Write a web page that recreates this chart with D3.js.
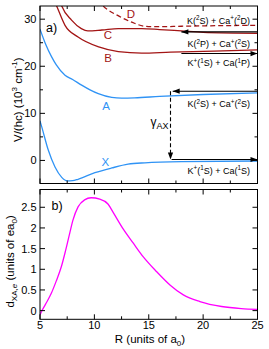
<!DOCTYPE html>
<html>
<head>
<meta charset="utf-8">
<script src="https://cdn.jsdelivr.net/npm/d3@7"></script>
<style>
  html, body { margin: 0; padding: 0; background: #fff; }
  svg { display: block; font-family: "Liberation Sans", Arial, sans-serif; }
</style>
</head>
<body>
<div id="chart"></div>
<script>
// --- Data ---
const curveX = [[5, 8.4], [5.2, 6.8], [5.76, 2.2], [6.38, -1.4], [7.0, -3.6], [7.5, -4.35], [8.0, -4.3],
  [8.5, -4.0], [10.05, -2.6], [11.6, -1.6], [13.1, -0.8], [14.65, -0.5], [18, -0.25], [25, -0.12]];
const curveA = [[5, 27.9], [5.5, 24.8], [6.07, 22.0], [6.5, 20.3], [7.3, 18.1], [8, 17.2], [8.83, 16.0],
  [9.6, 15.0], [10.36, 14.2], [11.6, 13.4], [12.5, 13.25], [13.7, 13.3], [16, 13.6], [20, 14.0], [25, 14.35]];
const curveB = [[6.2, 34.5], [6.53, 32.8], [7.3, 28.7], [8.5, 26.2], [10.4, 24.1], [12.2, 23.1],
  [14.35, 22.8], [17, 23.0], [21, 23.2], [25, 23.5]];
const curveC = [[6.75, 34.5], [7.0, 32.8], [7.9, 29.8], [8.8, 28.0], [9.4, 27.5], [10.7, 27.7], [12.2, 28.0],
  [14.35, 28.0], [16, 27.8], [18, 27.5], [20, 27.2], [25, 27.0]];
const curveD = [[10.3, 34], [10.8, 32.8], [12.3, 30.6], [13.5, 29.3], [14.65, 28.5], [16, 28.4], [18, 28.5], [25, 28.7]];
const dipole = [[5, -0.1], [5.12, -0.03], [5.5, 0.15], [6.04, 0.42], [6.5, 0.72], [6.96, 1.06], [7.35, 1.45],
  [7.73, 1.87], [8.03, 2.19], [8.5, 2.51], [9.1, 2.68], [9.7, 2.73], [10.5, 2.70], [11.25, 2.58], [11.74, 2.37],
  [12.66, 1.97], [13.58, 1.63], [14.5, 1.30], [15.73, 0.94], [16.95, 0.62], [18.18, 0.38], [19.7, 0.22],
  [21.7, 0.1], [23.5, 0.05], [25, 0.03]];

// asymptote arrows: [R from, R to, V]
const asymArrows = [[25, 18.0, 27.3], [18.0, 25, 22.7], [25, 17.2, 14.7], [17.1, 25, 0.2]];
const gammaR = 17.0, gammaFrom = 14.7, gammaTo = 0.2;

const curveLabels = [['D', 13.37, 30.25], ['C', 11.25, 25.7], ['B', 11.25, 21.0], ['A', 11.07, 10.7], ['X', 11.0, -1.2]];
const asymLabels = [
  { v: 29.0, parts: [['K('], ['2', 'sup'], ['S) + Ca'], ['+', 'sup'], ['('], ['2', 'sup'], ['D)']] },
  { v: 24.0, parts: [['K('], ['2', 'sup'], ['P) + Ca'], ['+', 'sup'], ['('], ['2', 'sup'], ['S)']] },
  { v: 20.0, parts: [['K'], ['+', 'sup'], ['('], ['1', 'sup'], ['S) + Ca('], ['1', 'sup'], ['P)']] },
  { v: 11.3, parts: [['K('], ['2', 'sup'], ['S) + Ca'], ['+', 'sup'], ['('], ['2', 'sup'], ['S)']] },
  { v: -2.9, parts: [['K'], ['+', 'sup'], ['('], ['1', 'sup'], ['S) + Ca('], ['1', 'sup'], ['S)']] }
];

const xMajor = [5, 10, 15, 20, 25];
const xMinor = [7.5, 12.5, 17.5, 22.5];
const yaMajor = [0, 10, 20, 30];
const yaMinor = [-5, 5, 15, 25];
const ybMajor = [0, 0.5, 1, 1.5, 2, 2.5];
const ybLabels = ['0', '0.5', '1', '1.5', '2', '2.5'];

const red = '#a31515', blue = '#2f93f5', magenta = '#ff00ff';

// --- Layout ---
const W = 269, H = 349;
const L = 40, R = 257.5;
const aTop = 6, aBot = 183.5, bTop = 189.5, bBot = 319.3;

const x = d3.scaleLinear().domain([5, 25]).range([L, R]);
const ya = d3.scaleLinear().domain([-4.9, 32.8]).range([aBot, aTop]);
const yb = d3.scaleLinear().domain([-0.21, 2.93]).range([bBot, bTop]);

const svg = d3.select('#chart').append('svg').attr('width', W).attr('height', H);
const defs = svg.append('defs');
defs.append('clipPath').attr('id', 'clipA').append('rect')
  .attr('x', L).attr('y', aTop).attr('width', R - L).attr('height', aBot - aTop);
defs.append('clipPath').attr('id', 'clipB').append('rect')
  .attr('x', L).attr('y', bTop).attr('width', R - L).attr('height', bBot - bTop);

// text with super/subscripts; keeps track of the baseline offset
function richText(sel, parts, size) {
  let off = 0;
  parts.forEach(([t, kind]) => {
    const target = kind === 'sup' ? -size * 0.4 : kind === 'sub' ? size * 0.3 : 0;
    const sp = sel.append('tspan').attr('dy', target - off).text(t);
    if (kind) sp.attr('font-size', size * 0.7);
    off = target;
  });
}

function drawTicks(g, y0, y1, yScale, yMaj, yMin) {
  const t = g.append('g').attr('stroke', '#000').attr('stroke-width', 1);
  xMajor.forEach(v => {
    t.append('line').attr('x1', x(v)).attr('x2', x(v)).attr('y1', y1).attr('y2', y1 - 5);
    t.append('line').attr('x1', x(v)).attr('x2', x(v)).attr('y1', y0).attr('y2', y0 + 5);
  });
  xMinor.forEach(v => {
    t.append('line').attr('x1', x(v)).attr('x2', x(v)).attr('y1', y1).attr('y2', y1 - 3);
    t.append('line').attr('x1', x(v)).attr('x2', x(v)).attr('y1', y0).attr('y2', y0 + 3);
  });
  yMaj.forEach(v => {
    t.append('line').attr('x1', L).attr('x2', L + 5).attr('y1', yScale(v)).attr('y2', yScale(v));
    t.append('line').attr('x1', R).attr('x2', R - 5).attr('y1', yScale(v)).attr('y2', yScale(v));
  });
  yMin.forEach(v => {
    const yy = yScale(v);
    if (yy < y0 || yy > y1) return;
    t.append('line').attr('x1', L).attr('x2', L + 3).attr('y1', yy).attr('y2', yy);
    t.append('line').attr('x1', R).attr('x2', R - 3).attr('y1', yy).attr('y2', yy);
  });
  g.append('rect').attr('x', L).attr('y', y0).attr('width', R - L).attr('height', y1 - y0)
    .attr('fill', 'none').attr('stroke', '#000').attr('stroke-width', 1);
}

function arrowHead(g, px, py, dir) {
  // dir: 'left', 'right', 'down'
  const len = 7, hw = 2.6;
  let pts;
  if (dir === 'left') pts = [[px, py], [px + len, py - hw], [px + len, py + hw]];
  else if (dir === 'right') pts = [[px, py], [px - len, py - hw], [px - len, py + hw]];
  else pts = [[px, py], [px - hw, py - len], [px + hw, py - len]];
  g.append('path').attr('d', 'M' + pts.map(p => p.join(',')).join('L') + 'Z').attr('fill', '#000');
}

// --- Panel a ---
const ga = svg.append('g');
const lineA = d3.line().x(d => x(d[0])).y(d => ya(d[1])).curve(d3.curveMonotoneX);
const plotA = ga.append('g').attr('clip-path', 'url(#clipA)');
[[curveX, blue, null], [curveA, blue, null], [curveB, red, null], [curveC, red, null], [curveD, red, '5,3']]
  .forEach(([data, col, dash]) => {
    plotA.append('path').attr('d', lineA(data)).attr('fill', 'none').attr('stroke', col)
      .attr('stroke-width', 1.3).attr('stroke-dasharray', dash);
  });

asymArrows.forEach(([r0, r1, v]) => {
  const yy = ya(v);
  ga.append('line').attr('x1', x(r0)).attr('x2', x(r1)).attr('y1', yy).attr('y2', yy)
    .attr('stroke', '#000').attr('stroke-width', 1.1);
  arrowHead(ga, x(r1), yy, r1 < r0 ? 'left' : 'right');
});
ga.append('line').attr('x1', x(gammaR)).attr('x2', x(gammaR)).attr('y1', ya(gammaFrom)).attr('y2', ya(gammaTo) - 2)
  .attr('stroke', '#000').attr('stroke-width', 1.1).attr('stroke-dasharray', '4,2.5');
arrowHead(ga, x(gammaR), ya(gammaTo), 'down');
const gt = ga.append('text').attr('x', x(gammaR) - 20).attr('y', ya(7.3)).attr('font-size', 12);
gt.append('tspan').text('γ');
gt.append('tspan').attr('font-size', 9).attr('dy', 3).text('AX');

curveLabels.forEach(([t, r, v], i) => {
  ga.append('text').attr('x', x(r)).attr('y', ya(v)).attr('text-anchor', 'middle')
    .attr('font-size', 11.5).attr('fill', i < 3 ? red : blue).text(t);
});
asymLabels.forEach(d => {
  const t = ga.append('text').attr('x', 250).attr('y', ya(d.v)).attr('text-anchor', 'end').attr('font-size', 9);
  richText(t, d.parts, 9);
});
ga.append('text').attr('x', 46).attr('y', 31.5).attr('font-size', 12.5).text('a)');
drawTicks(ga, aTop, aBot, ya, yaMajor, yaMinor);
yaMajor.forEach(v => {
  ga.append('text').attr('x', 36.5).attr('y', ya(v) + 4).attr('text-anchor', 'end')
    .attr('font-size', 11).text(v);
});
const ta = ga.append('text').attr('transform', `translate(21.5, ${(aTop + aBot) / 2 + 5}) rotate(-90)`)
  .attr('text-anchor', 'middle').attr('font-size', 11.5);
richText(ta, [['V/(hc) (10'], ['3', 'sup'], [' cm'], ['-1', 'sup'], [')']], 11.5);

// --- Panel b ---
const gb = svg.append('g');
const lineB = d3.line().x(d => x(d[0])).y(d => yb(d[1])).curve(d3.curveMonotoneX);
gb.append('g').attr('clip-path', 'url(#clipB)').append('path').attr('d', lineB(dipole))
  .attr('fill', 'none').attr('stroke', magenta).attr('stroke-width', 1.3);
gb.append('text').attr('x', 51.5).attr('y', 209.5).attr('font-size', 12.5).text('b)');
drawTicks(gb, bTop, bBot, yb, ybMajor, []);
ybMajor.forEach((v, i) => {
  gb.append('text').attr('x', 36.5).attr('y', yb(v) + 4).attr('text-anchor', 'end')
    .attr('font-size', 11).text(ybLabels[i]);
});
xMajor.forEach(v => {
  gb.append('text').attr('x', x(v)).attr('y', 328.5).attr('text-anchor', 'middle')
    .attr('font-size', 11).text(v);
});
const tx = gb.append('text').attr('x', 150).attr('y', 342.5).attr('text-anchor', 'middle').attr('font-size', 11.5);
richText(tx, [['R (units of a'], ['0', 'sub'], [')']], 11.5);
const tb = gb.append('text').attr('transform', `translate(13.5, ${(bTop + bBot) / 2 + 7}) rotate(-90)`)
  .attr('text-anchor', 'middle').attr('font-size', 11.5);
richText(tb, [['d'], ['XA,', 'sub'], [' (units of ea'], ['0', 'sub'], [')']], 11.5);
tb.select('tspan:nth-child(2)').text('XA,').append('tspan').attr('font-style', 'italic').text('e');
</script>
</body>
</html>
